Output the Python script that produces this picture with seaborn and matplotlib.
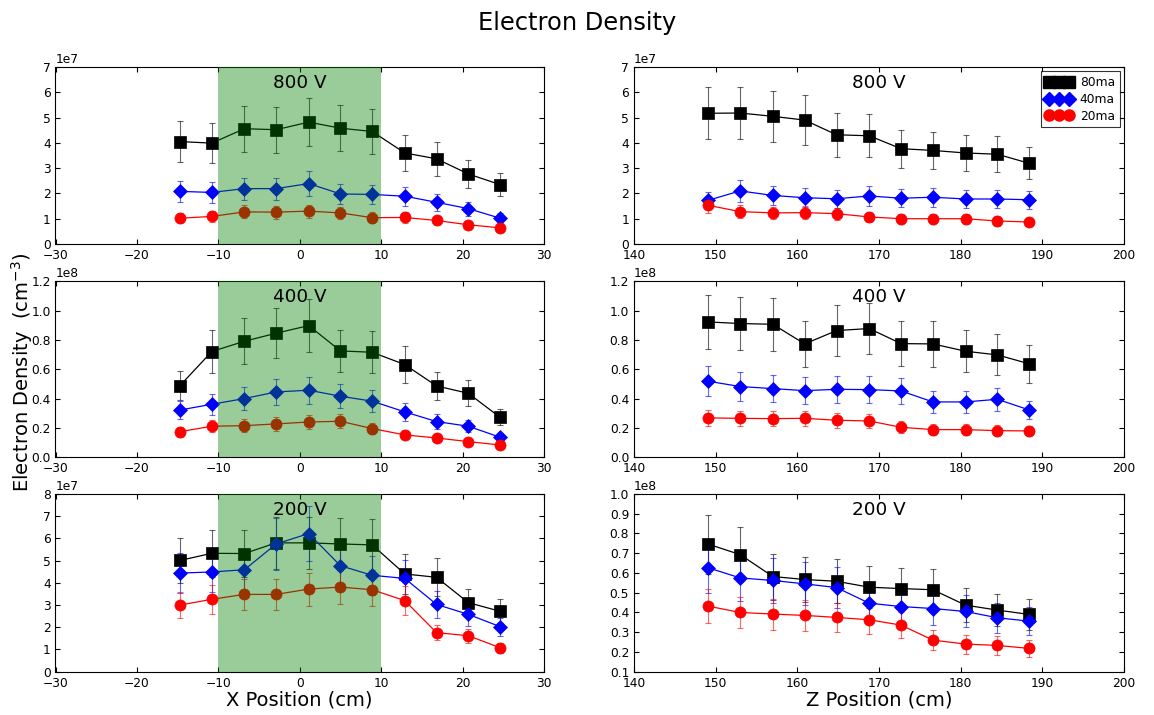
import numpy as np
import pandas as pd
import matplotlib
matplotlib.use("Agg")
import matplotlib.pyplot as plt
from matplotlib.lines import Line2D
from matplotlib.ticker import MultipleLocator
import seaborn as sns

# Probe positions (cm)
X_POS = [-14.7, -10.8, -6.8, -2.9, 1.1, 5.0, 8.9, 12.9, 16.8, 20.7, 24.6]
Z_POS = [149.1, 153.0, 157.0, 160.9, 164.8, 168.8, 172.7, 176.6, 180.6, 184.5, 188.4]

CURRENTS = ["80ma", "40ma", "20ma"]
VOLTAGES = ["800 V", "400 V", "200 V"]

# Electron density (cm^-3), X scan
x_800_80 = [4.05e7, 3.99e7, 4.56e7, 4.52e7, 4.82e7, 4.58e7, 4.45e7, 3.60e7, 3.37e7, 2.77e7, 2.35e7]
x_800_40 = [2.08e7, 2.04e7, 2.19e7, 2.19e7, 2.39e7, 1.98e7, 1.96e7, 1.89e7, 1.65e7, 1.40e7, 1.02e7]
x_800_20 = [1.02e7, 1.09e7, 1.27e7, 1.26e7, 1.30e7, 1.23e7, 1.04e7, 1.05e7, 0.93e7, 0.76e7, 0.64e7]

x_400_80 = [0.490e8, 0.722e8, 0.792e8, 0.847e8, 0.899e8, 0.726e8, 0.717e8, 0.633e8, 0.487e8, 0.437e8, 0.273e8]
x_400_40 = [0.323e8, 0.362e8, 0.401e8, 0.446e8, 0.458e8, 0.417e8, 0.383e8, 0.310e8, 0.244e8, 0.212e8, 0.137e8]
x_400_20 = [0.175e8, 0.212e8, 0.216e8, 0.228e8, 0.241e8, 0.246e8, 0.196e8, 0.153e8, 0.132e8, 0.107e8, 0.084e8]

x_200_80 = [5.01e7, 5.33e7, 5.32e7, 5.80e7, 5.80e7, 5.75e7, 5.71e7, 4.40e7, 4.25e7, 3.11e7, 2.72e7]
x_200_40 = [4.44e7, 4.49e7, 4.59e7, 5.75e7, 6.22e7, 4.77e7, 4.34e7, 4.20e7, 3.03e7, 2.58e7, 2.03e7]
x_200_20 = [3.00e7, 3.26e7, 3.48e7, 3.48e7, 3.72e7, 3.81e7, 3.69e7, 3.20e7, 1.76e7, 1.62e7, 1.08e7]

# Electron density (cm^-3), Z scan
z_800_80 = [5.17e7, 5.18e7, 5.05e7, 4.90e7, 4.32e7, 4.28e7, 3.77e7, 3.70e7, 3.60e7, 3.55e7, 3.19e7]
z_800_40 = [1.73e7, 2.10e7, 1.92e7, 1.83e7, 1.79e7, 1.90e7, 1.81e7, 1.85e7, 1.78e7, 1.78e7, 1.75e7]
z_800_20 = [1.53e7, 1.28e7, 1.23e7, 1.24e7, 1.20e7, 1.07e7, 1.00e7, 1.00e7, 1.00e7, 0.91e7, 0.87e7]

z_400_80 = [0.924e8, 0.913e8, 0.908e8, 0.774e8, 0.865e8, 0.879e8, 0.776e8, 0.774e8, 0.724e8, 0.699e8, 0.638e8]
z_400_40 = [0.519e8, 0.483e8, 0.469e8, 0.455e8, 0.464e8, 0.462e8, 0.453e8, 0.378e8, 0.378e8, 0.396e8, 0.323e8]
z_400_20 = [0.269e8, 0.266e8, 0.264e8, 0.266e8, 0.253e8, 0.248e8, 0.205e8, 0.189e8, 0.189e8, 0.182e8, 0.180e8]

z_200_80 = [0.746e8, 0.693e8, 0.582e8, 0.567e8, 0.558e8, 0.528e8, 0.521e8, 0.515e8, 0.437e8, 0.412e8, 0.390e8]
z_200_40 = [0.626e8, 0.575e8, 0.562e8, 0.545e8, 0.526e8, 0.447e8, 0.430e8, 0.420e8, 0.405e8, 0.373e8, 0.356e8]
z_200_20 = [0.432e8, 0.400e8, 0.392e8, 0.385e8, 0.375e8, 0.363e8, 0.336e8, 0.260e8, 0.240e8, 0.233e8, 0.218e8]

# Relative measurement uncertainty of each density point
REL_UNCERTAINTY = 0.20

# y-axis range and tick step per panel
Y_LIMITS = {
    ("X", "800 V"): (0, 7e7, 1e7), ("Z", "800 V"): (0, 7e7, 1e7),
    ("X", "400 V"): (0, 1.2e8, 0.2e8), ("Z", "400 V"): (0, 1.2e8, 0.2e8),
    ("X", "200 V"): (0, 8e7, 1e7), ("Z", "200 V"): (0.1e8, 1.0e8, 0.1e8),
}

series = {
    ("X", "800 V"): [x_800_80, x_800_40, x_800_20],
    ("X", "400 V"): [x_400_80, x_400_40, x_400_20],
    ("X", "200 V"): [x_200_80, x_200_40, x_200_20],
    ("Z", "800 V"): [z_800_80, z_800_40, z_800_20],
    ("Z", "400 V"): [z_400_80, z_400_40, z_400_20],
    ("Z", "200 V"): [z_200_80, z_200_40, z_200_20],
}

rows = []
for (scan, volt), vals in series.items():
    pos = X_POS if scan == "X" else Z_POS
    for cur, ys in zip(CURRENTS, vals):
        for p, y in zip(pos, ys):
            rows.append({"scan": scan, "voltage": volt, "current": cur,
                         "position": p, "density": y})
df = pd.DataFrame(rows)

COLORS = {"80ma": "black", "40ma": "blue", "20ma": "red"}
MARKERS = {"80ma": "s", "40ma": "D", "20ma": "o"}
MSIZE = {"80ma": 8, "40ma": 7, "20ma": 8}

sns.set_style("white", rc={
    "axes.edgecolor": "black",
    "axes.linewidth": 0.8,
    "axes.labelcolor": "black",
    "text.color": "black",
    "xtick.direction": "in", "ytick.direction": "in",
    "xtick.top": True, "ytick.right": True,
    "xtick.bottom": True, "ytick.left": True,
    "xtick.major.size": 3.5, "ytick.major.size": 3.5,
    "xtick.major.width": 0.6, "ytick.major.width": 0.6,
    "xtick.major.pad": 4.8, "ytick.major.pad": 3.5,
    "xtick.color": "black", "ytick.color": "black",
})
plt.rcParams["font.family"] = ["DejaVu Sans"]
plt.rcParams["xtick.labelsize"] = 8.8
plt.rcParams["ytick.labelsize"] = 8.8

fig = plt.figure(figsize=(11.54, 7.15), dpi=100)

W, H = 1154, 715
col_x = {"X": (55.5, 544.0), "Z": (634.0, 1124.0)}
row_y = {"800 V": (67.0, 244.0), "400 V": (281.5, 457.3), "200 V": (494.0, 671.7)}

axes = {}
for scan in ["X", "Z"]:
    for volt in VOLTAGES:
        x0, x1 = col_x[scan]
        y0, y1 = row_y[volt]
        ax = fig.add_axes([x0 / W, 1 - y1 / H, (x1 - x0) / W, (y1 - y0) / H])
        axes[(scan, volt)] = ax

        sub = df[(df.scan == scan) & (df.voltage == volt)]
        for cur in CURRENTS:
            s = sub[sub.current == cur]
            c = COLORS[cur]
            ax.errorbar(s.position, s.density, yerr=REL_UNCERTAINTY * s.density,
                        fmt="none", ecolor=c, alpha=0.6, elinewidth=0.8,
                        capsize=2.5, capthick=0.8, zorder=1.5)
            sns.lineplot(data=s, x="position", y="density", color=c,
                         marker=MARKERS[cur], markersize=MSIZE[cur],
                         markeredgecolor=c, markeredgewidth=0.5,
                         linewidth=0.9, errorbar=None, legend=False, ax=ax,
                         zorder=2)

        lo, hi, step = Y_LIMITS[(scan, volt)]
        ax.set_ylim(lo, hi)
        ax.yaxis.set_major_locator(MultipleLocator(step))
        if scan == "X":
            ax.set_xlim(-30, 30)
            ax.axvspan(-10, 10, color="g", alpha=0.4, lw=0, zorder=3)
        else:
            ax.set_xlim(140, 200)
        ax.xaxis.set_major_locator(MultipleLocator(10))
        ax.ticklabel_format(axis="y", style="sci", scilimits=(0, 0))
        ax.set_xlabel("")
        ax.set_ylabel("")
        ax.text(0.5, 0.91, volt, transform=ax.transAxes, ha="center",
                va="center", fontsize=13.2, color="black", zorder=5)
        for sp in ax.spines.values():
            sp.set_linewidth(0.8)
            sp.set_color("black")

axes[("X", "200 V")].set_xlabel("X Position (cm)", fontsize=14, labelpad=1,
                                color="black")
axes[("Z", "200 V")].set_xlabel("Z Position (cm)", fontsize=14, labelpad=1,
                                color="black")

handles = [Line2D([], [], color=COLORS[c], marker=MARKERS[c],
                  markersize=MSIZE[c], markeredgecolor=COLORS[c],
                  linewidth=0.9) for c in CURRENTS]
leg = axes[("Z", "800 V")].legend(handles, CURRENTS, loc="upper right",
                                  numpoints=3, fontsize=8.8, fancybox=False,
                                  frameon=True, handlelength=2.2,
                                  borderaxespad=0.35, borderpad=0.4,
                                  labelspacing=0.3, handletextpad=0.6)
leg.get_frame().set_edgecolor("black")
leg.get_frame().set_linewidth(0.8)

fig.suptitle("Electron Density", fontsize=17.4, x=0.5, y=0.985, va="top",
             color="black")
fig.text(0.019, 1 - 372 / H, "Electron Density  (cm$^{-3}$)", rotation=90,
         ha="center", va="center", fontsize=14, color="black")

fig.savefig("out.png", dpi=100)
